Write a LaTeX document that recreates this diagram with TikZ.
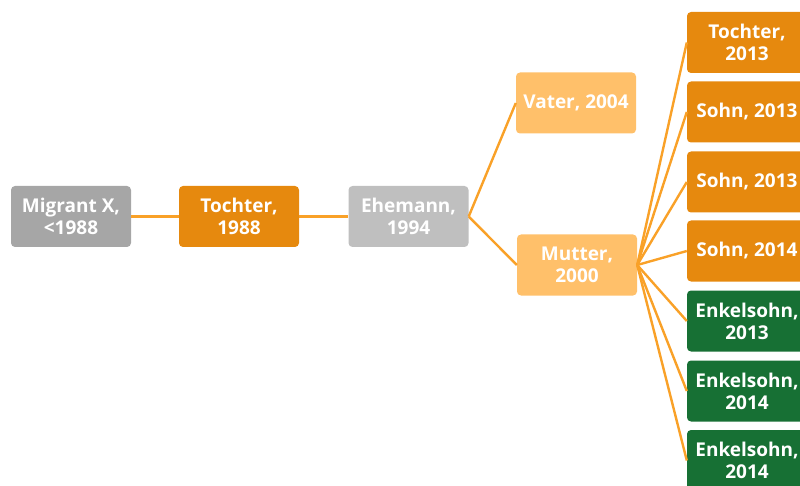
\documentclass[tikz,border=0pt]{standalone}
\usepackage{fontspec}
\setmainfont{Open Sans}
\usepackage{tikz}
\definecolor{boxGray}{RGB}{166, 166, 166}
\definecolor{boxLight}{RGB}{191, 191, 191}
\definecolor{boxOrange}{RGB}{230, 137, 14}
\definecolor{boxPale}{RGB}{255, 192, 106}
\definecolor{boxGreen}{RGB}{23, 112, 52}
\definecolor{lineOrange}{RGB}{249, 161, 40}

\tikzset{
  person/.style={rounded corners=4pt, minimum width=120pt, minimum height=61pt,
    inner sep=0pt, align=center, text=white, font=\fontsize{19}{22}\selectfont\bfseries},
  link/.style={lineOrange, line width=2.4pt}
}

\begin{document}
\begin{tikzpicture}[x=1pt, y=-1pt]
        \clip (0,0) rectangle (800,486);
        % first generations
        \node[person, fill=boxGray] (migrant) at (71,216.5) {Migrant X,\\<1988};
        \node[person, fill=boxOrange] (tochter) at (239,216.5) {Tochter,\\1988};
        \node[person, fill=boxLight] (ehemann) at (408.5,216.5) {Ehemann,\\1994};
        \node[person, fill=boxPale] (vater) at (576,103) {Vater, 2004};
        \node[person, fill=boxPale] (mutter) at (577,265) {Mutter,\\2000};
        % children of the mother
        \node[person, fill=boxOrange] (k1) at (747,42.5) {Tochter,\\2013};
        \node[person, fill=boxOrange] (k2) at (747,112) {Sohn, 2013};
        \node[person, fill=boxOrange] (k3) at (747,182) {Sohn, 2013};
        \node[person, fill=boxOrange] (k4) at (747,251) {Sohn, 2014};
        \node[person, fill=boxGreen] (k5) at (747,321) {Enkelsohn,\\2013};
        \node[person, fill=boxGreen] (k6) at (747,391) {Enkelsohn,\\2014};
        \node[person, fill=boxGreen] (k7) at (747,460.5) {Enkelsohn,\\2014};
        \draw[link] (migrant) -- (tochter);
        \draw[link] (tochter) -- (ehemann);
        \draw[link] (ehemann.east) -- (vater.west);
        \draw[link] (ehemann.east) -- (mutter.west);
        \foreach \k in {k1,k2,k3,k4,k5,k6,k7}
          \draw[link] (mutter.east) -- (\k.west);
      \end{tikzpicture}
\end{document}
